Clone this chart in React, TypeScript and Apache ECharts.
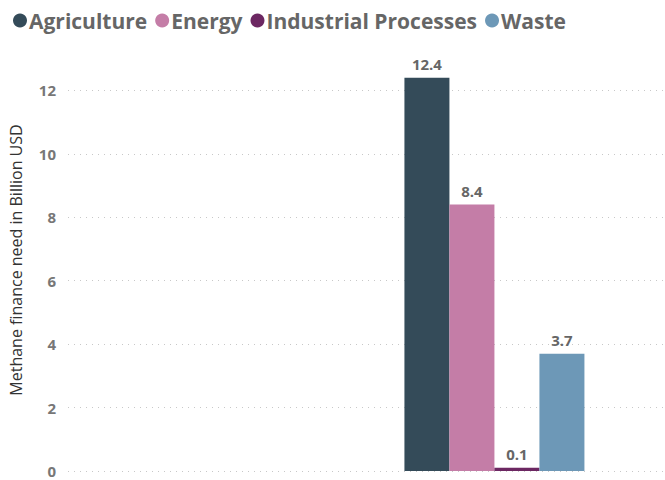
import React, { useEffect, useRef } from "react";
import * as echarts from "echarts";

const categories = ["", "", "", "", "", "Methane", "", ""];
const seriesNames = ["Agriculture", "Energy", "Industrial Processes", "Waste"];
const agriculture = [null, null, null, null, null, 12.4, null, null];
const energy = [null, null, null, null, null, 8.4, null, null];
const industrial = [null, null, null, null, null, 0.1, null, null];
const waste = [null, null, null, null, null, 3.7, null, null];
const colors = ["#344B59", "#C47DA7", "#6C2762", "#6D98B7"];
const yTitle = "Methane finance need in Billion USD";

export default function App() {
  const ref = useRef<HTMLDivElement>(null);
  useEffect(() => {
    if (!ref.current) return;
    const chart = echarts.init(ref.current, null, { renderer: "svg" });
    const values = [agriculture, energy, industrial, waste];
    chart.setOption({
      animation: false,
      color: colors,
      textStyle: { fontFamily: "Open Sans" },
      legend: {
        left: 8,
        top: 5,
        icon: "circle",
        itemWidth: 14,
        itemHeight: 14,
        itemGap: 8,
        textStyle: {
          fontFamily: "Open Sans",
          fontWeight: 700,
          fontSize: 21,
          color: "#666666",
          padding: [0, 0, 0, -3],
        },
        data: seriesNames,
      },
      grid: { left: 65, right: 0, top: 27, bottom: 9, containLabel: false },
      xAxis: {
        type: "category",
        data: categories,
        boundaryGap: false,
        axisLine: { show: false },
        axisTick: { show: false },
        axisLabel: { show: false },
        splitLine: { show: false },
      },
      yAxis: {
        type: "value",
        min: 0,
        max: 14,
        interval: 2,
        name: yTitle,
        nameLocation: "middle",
        nameGap: 44,
        nameTextStyle: { fontFamily: "Open Sans", fontSize: 16, color: "#333333", padding: [0, 22, 0, 0] },
        axisLabel: {
          showMaxLabel: false,
          margin: 12,
          fontFamily: "Open Sans",
          fontWeight: 700,
          fontSize: 15,
          color: "#777777",
        },
        splitLine: {
          showMaxLine: false,
          lineStyle: { type: [1, 5], color: "#c8c8c8", width: 1 },
        },
      },
      series: seriesNames.map((name, i) => ({
        name,
        type: "bar",
        data: values[i],
        barWidth: 45,
        barGap: "0%",
        itemStyle: { color: colors[i] },
        label: {
          show: true,
          position: "top",
          distance: 6,
          fontFamily: "Open Sans",
          fontWeight: 700,
          fontSize: 15,
          color: "#666666",
        },
      })),
    });
    return () => chart.dispose();
  }, []);
  return (
    <div
      ref={ref}
      style={{ position: "fixed", left: 0, top: 0, width: 665, height: 480, overflow: "hidden", background: "#fff" }}
    />
  );
}
